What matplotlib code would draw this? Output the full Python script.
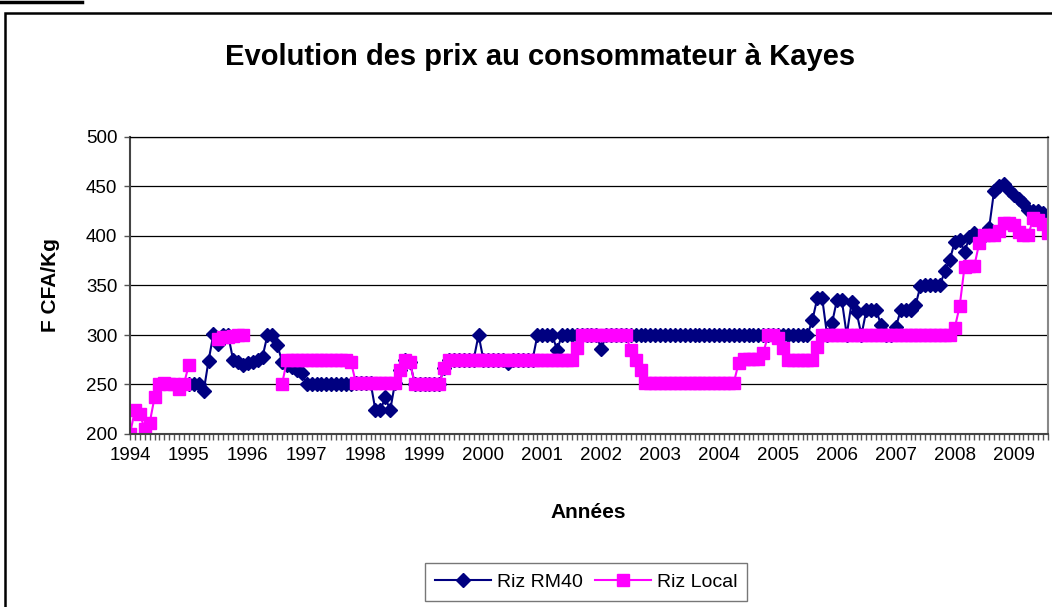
import numpy as np
import matplotlib
matplotlib.use("Agg")
import matplotlib.pyplot as plt
from matplotlib.patches import Rectangle
from matplotlib.lines import Line2D

plt.rcParams['font.family'] = ['Liberation Sans', 'DejaVu Sans']

nan = np.nan

# Prix mensuels (F CFA/Kg), janvier 1994 -> aout 2009
annees = ['1994', '1995', '1996', '1997', '1998', '1999', '2000', '2001',
          '2002', '2003', '2004', '2005', '2006', '2007', '2008', '2009']

riz_rm40 = (
    [nan] * 12 +                                                        # 1994
    [251, 251, 250, 243, 274, 301, 291, 300, 300, 275, 273, 270] +      # 1995
    [272, 273, 275, 278, 300, 300, 290, 273, 270, 268, 265, 262] +      # 1996
    [250] * 10 + [252, 252] +                                           # 1997
    [252, 252, 224, 224, 237, 224, 252, 265, 275, 273, 251, 251] +      # 1998
    [251, 251, 251, 251, 267, 275, 275, 275, 275, 275, 275, 300] +      # 1999
    [275] * 5 + [272] + [275] * 5 + [300] +                             # 2000
    [300, 300, 300, 285, 300, 300, 300, 300, 300, 300, 300, 300] +      # 2001
    [286] + [300] * 11 +                                                # 2002
    [300] * 12 +                                                        # 2003
    [300] * 12 +                                                        # 2004
    [300] * 7 + [315, 337, 337, 300, 312] +                             # 2005
    [335, 335, 300, 333, 323, 300, 325, 325, 325, 310, 300, 300] +      # 2006
    [308, 325, 325, 325, 330, 349, 350, 350, 350, 350, 365, 376] +      # 2007
    [394, 396, 384, 399, 403, 400, 400, 408, 445, 450, 453, 446] +      # 2008
    [441, 437, 433, 426, 425, 425, 423, 411]                            # 2009
)

riz_local = (
    [200, 224, 220, 205, 211, 237, 250, 252, 251, 250, 245, 251] +      # 1994
    [270, nan, nan, nan, nan, nan, 296, 298, 298, 299, 300, 300] +      # 1995
    [nan] * 7 + [251, 275, 275, 275, 275] +                             # 1996
    [275] * 9 + [273, 252, 252] +                                       # 1997
    [252] * 7 + [265, 275, 273, 251, 251] +                             # 1998
    [251, 251, 251, 251, 267, 275, 275, 275, 275, 275, 275, 275] +      # 1999
    [275] * 12 +                                                        # 2000
    [275] * 7 + [287, 300, 300, 300, 300] +                             # 2001
    [300] * 6 + [285, 275, 265, 252, 252, 252] +                        # 2002
    [252] * 12 +                                                        # 2003
    [252, 252, 252, 252, 272, 276, 276, 276, 276, 282, 300, 300] +      # 2004
    [297, 287, 275, 275, 275, 275, 275, 275, 288, 300, 300, 300] +      # 2005
    [300] * 12 +                                                        # 2006
    [300] * 12 +                                                        # 2007
    [307, 329, 369, 370, 370, 393, 401, 401, 401, 405, 413, 413] +      # 2008
    [411, 404, 401, 401, 418, 416, 412, 403]                            # 2009
)

mois = np.arange(len(riz_rm40))

W, H = 1052, 607
fig = plt.figure(figsize=(W / 100, H / 100), dpi=100)
ax = fig.add_axes([130 / W, 1 - 434 / H, (1048 - 130) / W, (434 - 137) / H])

# Les deux courbes
ax.plot(mois, riz_rm40, color='#000080', lw=1.5, marker='D', ms=7.5,
        markeredgecolor='#000080', label='Riz RM40')
ax.plot(mois, riz_local, color='#FF00FF', lw=1.5, marker='s', ms=8,
        markeredgecolor='#FF00FF', label='Riz Local')

# Axes
ax.set_xlim(0, len(mois) - 1)
ax.set_ylim(200, 500)
ax.set_yticks(range(200, 501, 50))
ax.set_xticks(range(0, len(mois), 12))
ax.set_xticklabels(annees)
ax.set_xticks(mois, minor=True)
ax.tick_params(axis='both', which='both', direction='out', length=4,
               width=1, color='#555555', labelsize=13.5, pad=5)
ax.grid(axis='y', color='black', lw=0.9)
ax.set_axisbelow(True)
for cote in ['left', 'bottom']:
    ax.spines[cote].set_color('#444444')
    ax.spines[cote].set_linewidth(1.5)
ax.spines['top'].set_color('black')
ax.spines['top'].set_linewidth(0.9)
ax.spines['right'].set_color('#888888')
ax.spines['right'].set_linewidth(1.5)

# Textes
fig.text(540 / W, 1 - 57 / H, 'Evolution des prix au consommateur à Kayes',
         ha='center', va='center', fontsize=21, fontweight='bold')
fig.text(50 / W, 1 - 285 / H, 'F CFA/Kg', rotation=90, ha='center',
         va='center', fontsize=15, fontweight='bold')
fig.text(588 / W, 1 - 513 / H, 'Années', ha='center', va='center',
         fontsize=15, fontweight='bold')

leg = fig.legend(loc='center', bbox_to_anchor=(586 / W, 1 - 582 / H), ncol=2,
                 fontsize=14, frameon=True, fancybox=False, numpoints=1,
                 handlelength=2.9, columnspacing=0.6, handletextpad=0.3,
                 borderpad=0.5)
leg.get_frame().set_edgecolor('#555555')
leg.get_frame().set_linewidth(1)

# Cadre du graphique et trait de la legende coupee au-dessus
fig.add_artist(Rectangle((5 / W, -0.1), 1.2, 1.1 - 13 / H,
                         transform=fig.transFigure, fill=False,
                         ec='black', lw=1.8))
fig.add_artist(Line2D([0, 82 / W], [1 - 1.5 / H] * 2, color='black', lw=2.5))

fig.savefig('out.png', dpi=100)
